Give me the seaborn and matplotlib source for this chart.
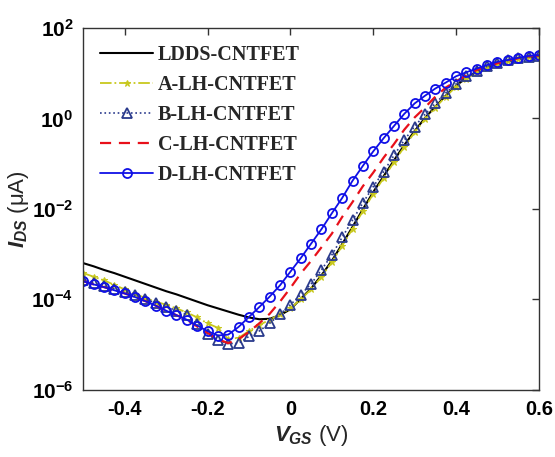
import numpy as np
import pandas as pd
import matplotlib
matplotlib.use("Agg")
import matplotlib.pyplot as plt
import seaborn as sns
from matplotlib.ticker import FixedLocator, FixedFormatter, NullLocator

# ---- data (VGS in V, log10 of IDS in uA) ----
vgs = [-0.5, -0.475, -0.45, -0.425, -0.4, -0.375, -0.35, -0.325, -0.3, -0.275,
       -0.25, -0.225, -0.2, -0.175, -0.15, -0.125, -0.1, -0.075, -0.05, -0.025,
       0.0, 0.025, 0.05, 0.075, 0.1, 0.125, 0.15, 0.175, 0.2, 0.225,
       0.25, 0.275, 0.3, 0.325, 0.35, 0.375, 0.4, 0.425, 0.45, 0.475,
       0.5, 0.525, 0.55, 0.575, 0.6]

log_ldds = [-3.20, -3.27, -3.35, -3.42, -3.50, -3.58, -3.66, -3.74, -3.82, -3.89,
            -3.97, -4.05, -4.13, -4.20, -4.27, -4.34, -4.40, -4.44, -4.43, -4.35,
            -4.22, -3.99, -3.76, -3.47, -3.15, -2.78, -2.40, -2.01, -1.63, -1.28,
            -0.93, -0.59, -0.28, 0.01, 0.26, 0.50, 0.72, 0.90, 1.03, 1.13,
            1.21, 1.27, 1.32, 1.35, 1.37]

log_a = [-3.42, -3.50, -3.58, -3.68, -3.78, -3.88, -3.97, -4.05, -4.12, -4.20,
         -4.29, -4.40, -4.53, -4.63, -4.88, -4.85, -4.70, -4.57, -4.45, -4.33,
         -4.20, -4.00, -3.78, -3.50, -3.18, -2.82, -2.44, -2.05, -1.67, -1.32,
         -0.97, -0.63, -0.31, -0.02, 0.24, 0.48, 0.70, 0.88, 1.02, 1.12,
         1.20, 1.26, 1.31, 1.35, 1.37]

log_b = [-3.57, -3.64, -3.71, -3.77, -3.83, -3.91, -4.00, -4.08, -4.16, -4.25,
         -4.34, -4.55, -4.76, -4.90, -4.98, -4.97, -4.82, -4.70, -4.53, -4.33,
         -4.12, -3.90, -3.66, -3.35, -3.02, -2.63, -2.25, -1.87, -1.51, -1.18,
         -0.82, -0.48, -0.18, 0.09, 0.33, 0.56, 0.76, 0.93, 1.05, 1.15,
         1.22, 1.28, 1.33, 1.36, 1.38]

log_c = [-3.60, -3.67, -3.73, -3.80, -3.87, -3.95, -4.04, -4.14, -4.25, -4.35,
         -4.45, -4.60, -4.74, -4.88, -4.97, -4.88, -4.72, -4.53, -4.32, -4.05,
         -3.75, -3.43, -3.15, -2.85, -2.55, -2.18, -1.85, -1.50, -1.20, -0.87,
         -0.57, -0.25, 0.02, 0.24, 0.48, 0.68, 0.82, 0.95, 1.07, 1.15,
         1.22, 1.28, 1.33, 1.37, 1.39]

log_d = [-3.60, -3.67, -3.73, -3.80, -3.87, -3.95, -4.04, -4.14, -4.25, -4.35,
         -4.45, -4.58, -4.70, -4.80, -4.78, -4.61, -4.39, -4.17, -3.94, -3.69,
         -3.39, -3.09, -2.77, -2.45, -2.10, -1.76, -1.38, -1.05, -0.73, -0.44,
         -0.17, 0.10, 0.33, 0.50, 0.66, 0.79, 0.93, 1.02, 1.10, 1.18,
         1.25, 1.29, 1.34, 1.38, 1.40]

labels = ["LDDS-CNTFET", "A-LH-CNTFET", "B-LH-CNTFET", "C-LH-CNTFET", "D-LH-CNTFET"]
x_ticks = [-0.4, -0.2, 0, 0.2, 0.4, 0.6]
x_ticklabels = ["-0.4", "-0.2", "0", "0.2", "0.4", "0.6"]
y_exps = [-6, -4, -2, 0, 2]

# ---- styling ----
sns.set_theme(style="white")
plt.rcParams["axes.unicode_minus"] = False
plt.rcParams["mathtext.fontset"] = "custom"
plt.rcParams["mathtext.it"] = "Liberation Sans:italic:bold"
plt.rcParams["mathtext.bf"] = "Liberation Sans:bold"
plt.rcParams["mathtext.rm"] = "Liberation Sans"
plt.rcParams["font.family"] = ["Liberation Sans", "DejaVu Sans"]

fig = plt.figure(figsize=(5.55, 4.57), dpi=100)
ax = fig.add_axes([0.150, 0.147, 0.821, 0.792])

series = [log_ldds, log_a, log_b, log_c, log_d]
styles = [
    dict(color="black", linestyle="-", linewidth=1.5),
    dict(color="#c8c81e", linestyle="-.", linewidth=1.3, marker="*", markersize=5,
         markerfacecolor="#c8c81e", markeredgecolor="#c8c81e"),
    dict(color="#2a3a8c", linestyle=":", linewidth=1.2, marker="^", markersize=7.5,
         markerfacecolor="none", markeredgecolor="#2a3a8c", markeredgewidth=1.3),
    dict(color="#e8101a", linestyle=(0, (5, 3.5)), linewidth=1.6),
    dict(color="#1010e6", linestyle="-", linewidth=1.3, marker="o", markersize=6.5,
         markerfacecolor="none", markeredgecolor="#1010e6", markeredgewidth=1.3),
]

for lg, lab, st in zip(series, labels, styles):
    df = pd.DataFrame({"VGS": vgs, "IDS": 10.0 ** np.array(lg)})
    sns.lineplot(data=df, x="VGS", y="IDS", ax=ax, label=lab, **st)

ax.set_yscale("log")
ax.set_xlim(-0.5, 0.6)
ax.set_ylim(1e-6, 1e2)

ax.xaxis.set_major_locator(FixedLocator(x_ticks))
ax.xaxis.set_major_formatter(FixedFormatter(x_ticklabels))
ax.yaxis.set_major_locator(FixedLocator([10.0 ** e for e in y_exps]))
ax.yaxis.set_major_formatter(FixedFormatter([r"$\mathbf{10^{%d}}$" % e for e in y_exps]))
ax.yaxis.set_minor_locator(NullLocator())

ax.tick_params(axis="both", which="major", direction="in", length=5, width=1,
               top=True, right=True, colors="#333333", labelcolor="black", pad=7)
for lab in ax.get_xticklabels():
    lab.set_fontsize(14.5)
    lab.set_fontweight("bold")
for lab in ax.get_yticklabels():
    lab.set_fontsize(15)
for sp in ax.spines.values():
    sp.set_color("#333333")
    sp.set_linewidth(1.0)

ax.set_xlabel(r"$V_{GS}$ (V)", fontsize=16, labelpad=3)
ax.set_ylabel(r"$I_{DS}$ (μA)", fontsize=16, labelpad=0)

leg = ax.legend(loc="upper left", frameon=False, handlelength=2.6, labelspacing=0.5,
                borderaxespad=0.45, handletextpad=0.25, borderpad=0.4,
                prop=dict(family="Liberation Serif", weight="bold", size=14.5))

fig.savefig("out.png", dpi=100)
